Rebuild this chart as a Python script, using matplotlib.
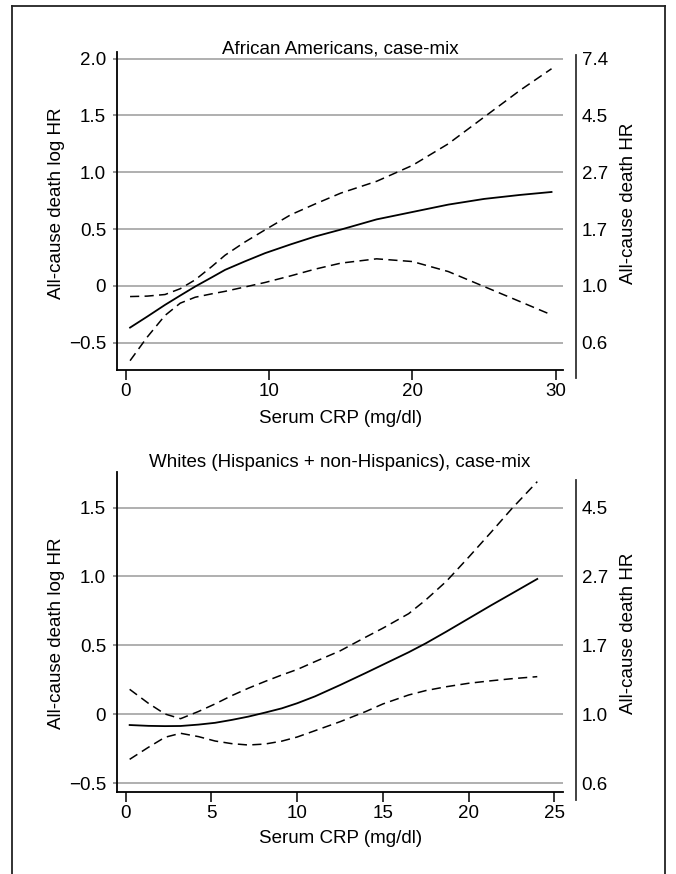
import numpy as np
import matplotlib.pyplot as plt
from matplotlib.lines import Line2D

plt.rcParams['font.family'] = ['Liberation Sans Narrow', 'Liberation Sans', 'DejaVu Sans']

# top panel: African Americans
aa_x = [0.3, 1.5, 2.74, 3.8, 4.84, 6.0, 6.93, 8.3, 9.72, 11.5, 13.2, 15, 17.5, 20, 22.5, 25, 27.5, 29.7]
aa_hr = [-0.367, -0.27, -0.167, -0.085, -0.006, 0.075, 0.141, 0.215, 0.288, 0.365, 0.434, 0.495,
         0.585, 0.65, 0.715, 0.765, 0.80, 0.826]
aa_hi = [-0.094, -0.09, -0.076, -0.025, 0.053, 0.17, 0.27, 0.385, 0.493, 0.625, 0.72, 0.816,
         0.92, 1.06, 1.25, 1.485, 1.72, 1.91]
aa_lo = [-0.658, -0.45, -0.26, -0.152, -0.1, -0.07, -0.048, -0.01, 0.03, 0.088, 0.147, 0.2,
         0.238, 0.214, 0.126, -0.006, -0.138, -0.255]

# bottom panel: Whites
wh_x = [0.23, 1.32, 2.29, 3.2, 4.24, 5.21, 6.18, 7.15, 8.12, 9.1, 10, 11.04, 12.5, 14, 15,
        16.5, 17.5, 18.7, 20, 21.3, 22.5, 24]
wh_hr = [-0.078, -0.084, -0.086, -0.085, -0.075, -0.062, -0.041, -0.017, 0.012, 0.043, 0.08,
         0.13, 0.212, 0.3, 0.36, 0.45, 0.515, 0.60, 0.695, 0.79, 0.875, 0.982]
wh_hi = [0.181, 0.08, 0.002, -0.032, 0.02, 0.075, 0.135, 0.189, 0.238, 0.285, 0.325, 0.382,
         0.46, 0.56, 0.625, 0.73, 0.83, 0.965, 1.14, 1.32, 1.49, 1.688]
wh_lo = [-0.327, -0.24, -0.167, -0.138, -0.162, -0.194, -0.213, -0.223, -0.216, -0.195, -0.165,
         -0.119, -0.054, 0.02, 0.075, 0.14, 0.172, 0.2, 0.225, 0.243, 0.258, 0.273]

aa_yticks = [-0.5, 0, 0.5, 1.0, 1.5, 2.0]
aa_ylabels = ['\u22120.5', '0', '0.5', '1.0', '1.5', '2.0']
aa_rlabels = ['0.6', '1.0', '1.7', '2.7', '4.5', '7.4']
wh_yticks = [-0.5, 0, 0.5, 1.0, 1.5]
wh_ylabels = ['\u22120.5', '0', '0.5', '1.0', '1.5']
wh_rlabels = ['0.6', '1.0', '1.7', '2.7', '4.5']

W, H = 676, 874
fig = plt.figure(figsize=(W / 100, H / 100), dpi=100)

# outer frame (open at the bottom)
for xs, ys in [([12 / W, 12 / W], [0, 1 - 6 / H]),
               ([12 / W, 665 / W], [1 - 6 / H, 1 - 6 / H]),
               ([665 / W, 665 / W], [1 - 6 / H, 0])]:
    fig.add_artist(Line2D(xs, ys, color='#222222', lw=1.3, transform=fig.transFigure))


def fb(px_top, px_bot):
    return 1 - px_bot / H, (px_bot - px_top) / H


def panel(box, rbox, x, hr, hi, lo, xlim, ylim, rlim, xticks, yticks, ylabels, rlabels,
          title, title_y, xlab_y, ylab_y):
    b, h = fb(*box)
    ax = fig.add_axes([117.3 / W, b, (563 - 117.3) / W, h])
    for yt in yticks:
        ax.axhline(yt, color='#9a9a9a', lw=1.1, zorder=1)
    ax.plot(x, hr, color='black', lw=1.3, zorder=3)
    ax.plot(x, hi, color='black', lw=1.1, ls=(0, (6, 3.5)), zorder=3)
    ax.plot(x, lo, color='black', lw=1.1, ls=(0, (6, 3.5)), zorder=3)
    ax.set_xlim(*xlim)
    ax.set_ylim(*ylim)
    ax.set_xticks(xticks)
    ax.set_yticks(yticks)
    ax.set_yticklabels(ylabels)
    for s in ['top', 'right']:
        ax.spines[s].set_visible(False)
    ax.spines['left'].set_linewidth(1.3)
    ax.spines['bottom'].set_linewidth(1.3)
    ax.tick_params(axis='x', length=7, width=1.1, pad=2, labelsize=13.5)
    ax.tick_params(axis='y', length=3, width=1.1, pad=5, labelsize=13.5, color='#777777')
    ax.text(0.5, title_y, title, transform=ax.transAxes, ha='center', va='baseline', fontsize=13.5)
    ax.text(0.5, xlab_y, 'Serum CRP (mg/dl)', transform=ax.transAxes, ha='center', va='baseline',
            fontsize=13.5)
    ax.text(-0.1375, ylab_y, 'All-cause death log HR', transform=ax.transAxes, ha='center',
            va='center', rotation=90, fontsize=13.5)
    ax.text(1.146, ylab_y, 'All-cause death HR', transform=ax.transAxes, ha='center', va='center',
            rotation=90, fontsize=13.5)

    # right-hand HR scale, drawn as a separate offset line
    rb, rh = fb(*rbox)
    axr = fig.add_axes([117.3 / W, rb, (563 - 117.3) / W, rh])
    axr.patch.set_visible(False)
    for s in ['top', 'left', 'bottom']:
        axr.spines[s].set_visible(False)
    axr.spines['right'].set_position(('outward', 9.4))
    axr.spines['right'].set_linewidth(1.3)
    axr.spines['right'].set_color('#333333')
    axr.set_xticks([])
    axr.set_ylim(*rlim)
    axr.yaxis.tick_right()
    axr.set_yticks(yticks)
    axr.set_yticklabels(rlabels)
    axr.tick_params(axis='y', length=0, pad=4, labelsize=13.5)
    return ax


panel((51.7, 370), (55, 378), aa_x, aa_hr, aa_hi, aa_lo,
      (-0.59, 30.5), (-0.74, 2.06), (-0.811, 2.035), [0, 10, 20, 30],
      aa_yticks, aa_ylabels, aa_rlabels,
      'African Americans, case-mix', 0.995, -0.1665, 0.525)

panel((472, 792), (480, 800), wh_x, wh_hr, wh_hi, wh_lo,
      (-0.49, 25.5), (-0.564, 1.758), (-0.622, 1.70), [0, 5, 10, 15, 20, 25],
      wh_yticks, wh_ylabels, wh_rlabels,
      'Whites (Hispanics + non-Hispanics), case-mix', 1.0166, -0.159, 0.497)

fig.savefig('out.png', dpi=100)
